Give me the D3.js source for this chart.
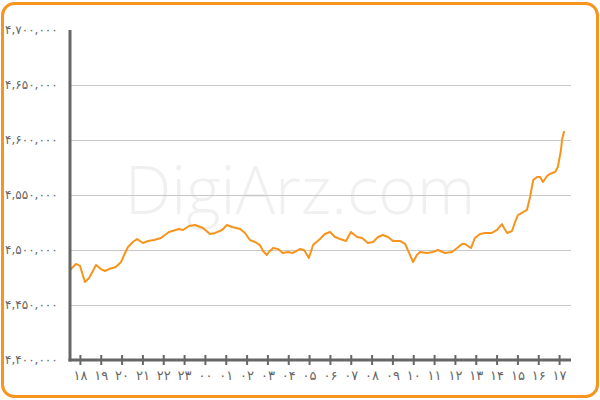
<!DOCTYPE html>
<html><head><meta charset="utf-8">
<script src="https://cdn.jsdelivr.net/npm/d3@7"></script>
<style>
html,body{margin:0;padding:0;background:#fff;}
svg{display:block;}
</style></head>
<body>
<svg id="c" width="600" height="400"></svg>
<script>
// minutes since 17:30
const minutes = [0,17,29,35,43,55,66,75,89,101,112,132,147,156,167,181,193,210,225,242,262,285,314,325,343,360,383,403,418,438,452,467,490,504,518,533,547,556,567,573,585,599,613,628,642,662,674,683,688,700,720,734,749,763,778,795,809,827,841,858,873,887,901,916,930,950,965,973,988,999,1008,1028,1045,1060,1080,1100,1115,1129,1138,1146,1155,1166,1181,1195,1215,1230,1244,1250,1259,1273,1282,1290,1305,1316,1325,1334,1345,1354,1362,1374,1382,1397,1405,1414,1417,1423];
const prices = [4481800,4487300,4485500,4479100,4470900,4474500,4480900,4486400,4482700,4480900,4482700,4484500,4489100,4495500,4502700,4507300,4510000,4506400,4508200,4509100,4510900,4516400,4519100,4518200,4521800,4522700,4520000,4514500,4515500,4518200,4522700,4520900,4519100,4515500,4509100,4507300,4504500,4499100,4495500,4498200,4501800,4500900,4497300,4498200,4497300,4500900,4500000,4495500,4492700,4504500,4510000,4514500,4516400,4511800,4510000,4508200,4516400,4511800,4510900,4506400,4507300,4511800,4513600,4511800,4508200,4508200,4505500,4500000,4489100,4495500,4498200,4497300,4498200,4500000,4497300,4498200,4501800,4505500,4505500,4503600,4501800,4510900,4514500,4515500,4515500,4518200,4523600,4520000,4515500,4517300,4525500,4531800,4534500,4536400,4548200,4563600,4566400,4566400,4561800,4567300,4569100,4570900,4575500,4590900,4600000,4608200];
const hourLabels = ["۱۸","۱۹","۲۰","۲۱","۲۲","۲۳","۰۰","۰۱","۰۲","۰۳","۰۴","۰۵","۰۶","۰۷","۰۸","۰۹","۱۰","۱۱","۱۲","۱۳","۱۴","۱۵","۱۶","۱۷"];
const yTicks = [4400000,4450000,4500000,4550000,4600000,4650000,4700000];

const fa = s => s.replace(/[0-9]/g, d => "۰۱۲۳۴۵۶۷۸۹"[+d]);
const svg = d3.select("#c");
const orange = "#f7941d", axisCol = "#666";

const x = d3.scaleLinear().domain([0, 1440]).range([70, 570]);
const y = d3.scaleLinear().domain([4400000, 4700000]).range([360, 30]);

// border
svg.append("rect").attr("x",2.5).attr("y",3.5).attr("width",595).attr("height",393)
  .attr("rx",12).attr("ry",12).attr("fill","#fff").attr("stroke",orange).attr("stroke-width",3);

// watermark
svg.append("text").attr("x",300).attr("y",214).attr("text-anchor","middle")
  .attr("font-family","'Open Sans', Lato, sans-serif").attr("font-weight",300)
  .attr("font-size",66).attr("fill","#f0f0f0").text("DigiArz.com");

// gridlines
svg.append("g").selectAll("line").data(yTicks.filter(v => v > 4400000 && v < 4700000))
  .join("line").attr("x1",70).attr("x2",571).attr("y1",d=>y(d)+0.5).attr("y2",d=>y(d)+0.5)
  .attr("stroke","#c8c8c8").attr("stroke-width",1);

// y labels
svg.append("g").selectAll("text").data(yTicks).join("text")
  .attr("x",5).attr("y",d=>y(d)).attr("dy","0.35em")
  .attr("font-family","'DejaVu Sans', sans-serif").attr("font-size",12)
  .attr("letter-spacing","2.4px").attr("fill",axisCol)
  .text(d => fa(d3.format(",")(d)));

// line
const line = d3.line().x((d,i)=>x(minutes[i])).y(d=>y(d));
svg.append("path").datum(prices).attr("d",line).attr("fill","none")
  .attr("stroke",orange).attr("stroke-width",2).attr("stroke-linejoin","round");

// axes lines
svg.append("line").attr("x1",70).attr("x2",70).attr("y1",30).attr("y2",361.5)
  .attr("stroke",axisCol).attr("stroke-width",3);
svg.append("line").attr("x1",68.5).attr("x2",571).attr("y1",360).attr("y2",360)
  .attr("stroke",axisCol).attr("stroke-width",3);

// ticks & labels
const hx = i => x(30 + 60*i);
const g = svg.append("g");
g.selectAll("line").data(hourLabels).join("line")
  .attr("x1",(d,i)=>hx(i)).attr("x2",(d,i)=>hx(i)).attr("y1",355).attr("y2",365)
  .attr("stroke",axisCol).attr("stroke-width",2);
g.selectAll("text").data(hourLabels).join("text")
  .attr("x",(d,i)=>hx(i)).attr("y",380).attr("text-anchor","middle")
  .attr("font-family","'DejaVu Sans', sans-serif").attr("font-size",13)
  .attr("letter-spacing","1.5px").attr("fill",axisCol).text(d=>d);
</script>
</body></html>
